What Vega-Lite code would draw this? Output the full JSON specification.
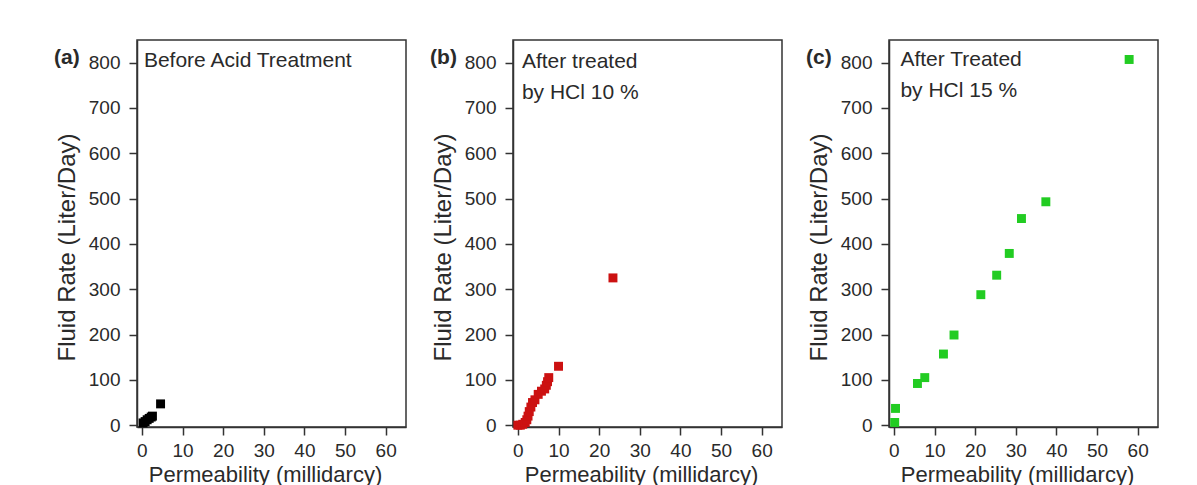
{
  "$schema": "https://vega.github.io/schema/vega-lite/v6.json",
  "padding": {"left": 53, "top": 39, "right": 5, "bottom": 0},
  "bounds": "flush",
  "spacing": 107,
  "config": {
    "font": "Liberation Sans",
    "view": {"stroke": "#333", "strokeWidth": 1.5},
    "axis": {
      "grid": false,
      "domainColor": "#333",
      "domainWidth": 1.5,
      "tickColor": "#333",
      "tickWidth": 1.5,
      "labelFontSize": 19,
      "labelColor": "#2a2a2a",
      "titleFontWeight": "normal",
      "titleColor": "#2a2a2a"
    }
  },
  "hconcat": [
    {
      "width": 269,
      "height": 387,
      "layer": [
        {
          "data": {"values": [
            {"perm": 0.3, "rate": 5},
            {"perm": 0.8, "rate": 8},
            {"perm": 1.3, "rate": 12},
            {"perm": 1.8, "rate": 15},
            {"perm": 2.3, "rate": 18},
            {"perm": 2.6, "rate": 20},
            {"perm": 4.6, "rate": 47}
          ]},
          "mark": {"type": "square", "size": 80, "opacity": 1, "color": "#000000"},
          "encoding": {
            "x": {"field": "perm", "type": "quantitative", "scale": {"domain": [-1.2, 65], "nice": false},
              "axis": {"title": "Permeability (millidarcy)", "titleFontSize": 22, "titleX": 128, "values": [0,5,10,15,20,25,30,35,40,45,50,55,60], "labelExpr": "datum.value % 10 === 0 ? datum.label : ''", "tickSize": {"condition": {"test": "datum.value % 10 === 0", "value": 8}, "value": 4}, "labelPadding": 6, "titlePadding": 4}},
            "y": {"field": "rate", "type": "quantitative", "scale": {"domain": [-4, 850], "nice": false},
              "axis": {"title": "Fluid Rate (Liter/Day)", "titleFontSize": 24, "values": [0,50,100,150,200,250,300,350,400,450,500,550,600,650,700,750,800], "labelExpr": "datum.value % 100 === 0 ? datum.label : ''", "tickSize": {"condition": {"test": "datum.value % 100 === 0", "value": 8}, "value": 4}, "labelPadding": 9, "titlePadding": 9, "titleY": 207}}
          }
        },
        {
          "data": {"values": [{}]},
          "mark": {"type": "text", "align": "left", "baseline": "alphabetic", "fontSize": 21, "lineHeight": 31, "color": "#2a2a2a"},
          "encoding": {
            "x": {"datum": 0.5, "type": "quantitative"},
            "y": {"datum": 791, "type": "quantitative"},
            "text": {"value": "Before Acid Treatment"}
          }
        },
        {
          "data": {"values": [{}]},
          "mark": {"type": "text", "align": "left", "baseline": "alphabetic", "fontSize": 21, "fontWeight": "bold", "color": "#2a2a2a"},
          "encoding": {
            "x": {"datum": -21.6, "type": "quantitative"},
            "y": {"datum": 798, "type": "quantitative"},
            "text": {"value": "(a)"}
          }
        }
      ]
    },
    {
      "width": 269,
      "height": 387,
      "layer": [
        {
          "data": {"values": [
            {"perm": 0.0, "rate": 0},
            {"perm": 0.6, "rate": 0},
            {"perm": 1.2, "rate": 2},
            {"perm": 1.8, "rate": 6},
            {"perm": 2.2, "rate": 12},
            {"perm": 2.5, "rate": 20},
            {"perm": 2.8, "rate": 30},
            {"perm": 3.2, "rate": 40},
            {"perm": 3.6, "rate": 50},
            {"perm": 4.2, "rate": 56},
            {"perm": 5.0, "rate": 68},
            {"perm": 5.8, "rate": 75},
            {"perm": 6.6, "rate": 80},
            {"perm": 7.0, "rate": 88},
            {"perm": 7.3, "rate": 96},
            {"perm": 7.6, "rate": 105},
            {"perm": 10.0, "rate": 130},
            {"perm": 23.4, "rate": 325}
          ]},
          "mark": {"type": "square", "size": 80, "opacity": 1, "color": "#cc1111"},
          "encoding": {
            "x": {"field": "perm", "type": "quantitative", "scale": {"domain": [-1.2, 65], "nice": false},
              "axis": {"title": "Permeability (millidarcy)", "titleFontSize": 22, "titleX": 128, "values": [0,5,10,15,20,25,30,35,40,45,50,55,60], "labelExpr": "datum.value % 10 === 0 ? datum.label : ''", "tickSize": {"condition": {"test": "datum.value % 10 === 0", "value": 8}, "value": 4}, "labelPadding": 6, "titlePadding": 4}},
            "y": {"field": "rate", "type": "quantitative", "scale": {"domain": [-4, 850], "nice": false},
              "axis": {"title": "Fluid Rate (Liter/Day)", "titleFontSize": 24, "values": [0,50,100,150,200,250,300,350,400,450,500,550,600,650,700,750,800], "labelExpr": "datum.value % 100 === 0 ? datum.label : ''", "tickSize": {"condition": {"test": "datum.value % 100 === 0", "value": 8}, "value": 4}, "labelPadding": 9, "titlePadding": 9, "titleY": 207}}
          }
        },
        {
          "data": {"values": [{}]},
          "mark": {"type": "text", "align": "left", "baseline": "alphabetic", "fontSize": 21, "lineHeight": 31, "color": "#2a2a2a"},
          "encoding": {
            "x": {"datum": 1.0, "type": "quantitative"},
            "y": {"datum": 788, "type": "quantitative"},
            "text": {"value": ["After treated", "by HCl 10 %"]}
          }
        },
        {
          "data": {"values": [{}]},
          "mark": {"type": "text", "align": "left", "baseline": "alphabetic", "fontSize": 21, "fontWeight": "bold", "color": "#2a2a2a"},
          "encoding": {
            "x": {"datum": -21.6, "type": "quantitative"},
            "y": {"datum": 798, "type": "quantitative"},
            "text": {"value": "(b)"}
          }
        }
      ]
    },
    {
      "width": 269,
      "height": 387,
      "layer": [
        {
          "data": {"values": [
            {"perm": 0.2, "rate": 6},
            {"perm": 0.4, "rate": 37},
            {"perm": 5.8, "rate": 92},
            {"perm": 7.6, "rate": 105},
            {"perm": 12.2, "rate": 157},
            {"perm": 14.8, "rate": 199},
            {"perm": 21.4, "rate": 288},
            {"perm": 25.3, "rate": 331},
            {"perm": 28.4, "rate": 379},
            {"perm": 31.4, "rate": 456},
            {"perm": 37.4, "rate": 493},
            {"perm": 57.9, "rate": 807}
          ]},
          "mark": {"type": "square", "size": 80, "opacity": 1, "color": "#22cc22"},
          "encoding": {
            "x": {"field": "perm", "type": "quantitative", "scale": {"domain": [-1.2, 65], "nice": false},
              "axis": {"title": "Permeability (millidarcy)", "titleFontSize": 22, "titleX": 128, "values": [0,5,10,15,20,25,30,35,40,45,50,55,60], "labelExpr": "datum.value % 10 === 0 ? datum.label : ''", "tickSize": {"condition": {"test": "datum.value % 10 === 0", "value": 8}, "value": 4}, "labelPadding": 6, "titlePadding": 4}},
            "y": {"field": "rate", "type": "quantitative", "scale": {"domain": [-4, 850], "nice": false},
              "axis": {"title": "Fluid Rate (Liter/Day)", "titleFontSize": 24, "values": [0,50,100,150,200,250,300,350,400,450,500,550,600,650,700,750,800], "labelExpr": "datum.value % 100 === 0 ? datum.label : ''", "tickSize": {"condition": {"test": "datum.value % 100 === 0", "value": 8}, "value": 4}, "labelPadding": 9, "titlePadding": 9, "titleY": 207}}
          }
        },
        {
          "data": {"values": [{}]},
          "mark": {"type": "text", "align": "left", "baseline": "alphabetic", "fontSize": 21, "lineHeight": 31, "color": "#2a2a2a"},
          "encoding": {
            "x": {"datum": 1.6, "type": "quantitative"},
            "y": {"datum": 793, "type": "quantitative"},
            "text": {"value": ["After Treated", "by HCl 15 %"]}
          }
        },
        {
          "data": {"values": [{}]},
          "mark": {"type": "text", "align": "left", "baseline": "alphabetic", "fontSize": 21, "fontWeight": "bold", "color": "#2a2a2a"},
          "encoding": {
            "x": {"datum": -21.6, "type": "quantitative"},
            "y": {"datum": 798, "type": "quantitative"},
            "text": {"value": "(c)"}
          }
        }
      ]
    }
  ]
}
